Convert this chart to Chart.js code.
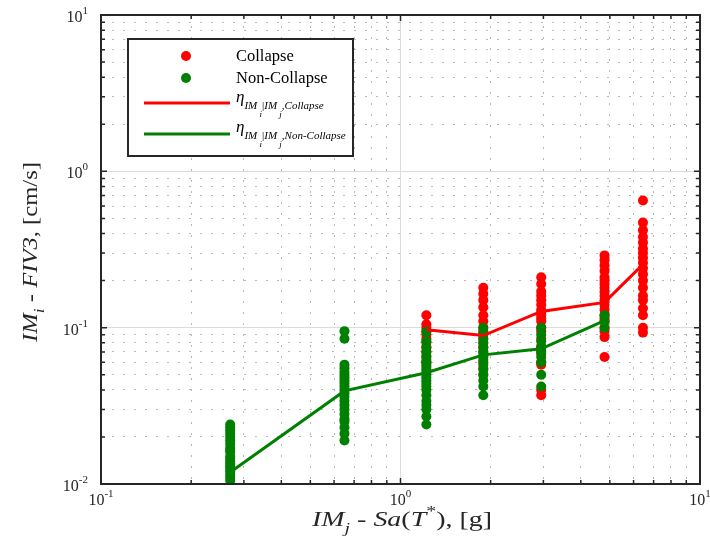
<!DOCTYPE html>
<html>
<head>
<meta charset="utf-8">
<script src="https://cdn.jsdelivr.net/npm/chart.js@4.4.0/dist/chart.umd.min.js"></script>
<style>
body{margin:0;background:#fff}
canvas{display:block}
</style>
</head>
<body>
<canvas id="grafico" width="710" height="557"></canvas>
<script>
// colunas de IM_j (Sa(T*), g)
const xCols = [0.27, 0.65, 1.22, 1.89, 2.95, 4.8, 6.45];

// Non-Collapse (verde)
const nc_027 = [0.024, 0.023, 0.022, 0.021, 0.020, 0.019, 0.018, 0.017, 0.0165, 0.016, 0.015, 0.0145, 0.014, 0.0135, 0.013, 0.0125, 0.012, 0.0115, 0.011, 0.0105];
const nc_065 = [0.095, 0.085, 0.058, 0.055, 0.052, 0.05, 0.048, 0.046, 0.044, 0.042, 0.04, 0.038, 0.036, 0.034, 0.032, 0.03, 0.028, 0.026, 0.025, 0.023, 0.021, 0.019];
const nc_122 = [0.094, 0.082, 0.075, 0.07, 0.066, 0.062, 0.06, 0.058, 0.056, 0.054, 0.052, 0.05, 0.048, 0.046, 0.044, 0.042, 0.04, 0.037, 0.034, 0.032, 0.03, 0.027, 0.024];
const nc_189 = [0.1, 0.092, 0.085, 0.08, 0.075, 0.07, 0.066, 0.062, 0.058, 0.054, 0.05, 0.046, 0.042, 0.037];
const nc_295 = [0.1, 0.09, 0.082, 0.076, 0.072, 0.068, 0.065, 0.06, 0.05, 0.042];
const nc_480 = [0.12, 0.11, 0.1];

// Collapse (vermelho)
const c_122 = [0.12, 0.105, 0.1, 0.095, 0.09, 0.085, 0.08, 0.075, 0.07, 0.065, 0.06];
const c_189 = [0.18, 0.165, 0.15, 0.135, 0.12, 0.11, 0.1, 0.095, 0.09, 0.085, 0.08, 0.075, 0.07, 0.065, 0.06, 0.055, 0.05];
const c_295 = [0.21, 0.19, 0.17, 0.16, 0.15, 0.14, 0.13, 0.125, 0.12, 0.115, 0.11, 0.1, 0.095, 0.085, 0.075, 0.07, 0.06, 0.058, 0.04, 0.037];
const c_480 = [0.29, 0.27, 0.25, 0.23, 0.21, 0.2, 0.19, 0.18, 0.17, 0.16, 0.15, 0.14, 0.13, 0.12, 0.115, 0.11, 0.1, 0.095, 0.087, 0.065];
const c_645 = [0.65, 0.47, 0.42, 0.38, 0.35, 0.32, 0.3, 0.28, 0.26, 0.24, 0.22, 0.2, 0.18, 0.16, 0.15, 0.133, 0.12, 0.1, 0.093];

// medianas
const medNaoColapso = [0.0119, 0.0394, 0.0515, 0.067, 0.0733, 0.111];
const medColapso = [0.097, 0.089, 0.127, 0.145, 0.254];

const xTicksDec = [-1, 0, 1];
const yTicksDec = [-2, -1, 0, 1];

function pontos(x, ys){
    return ys.map(function(y){ return {x: x, y: y} })
}

var verdes = [].concat(
    pontos(xCols[0], nc_027), pontos(xCols[1], nc_065), pontos(xCols[2], nc_122),
    pontos(xCols[3], nc_189), pontos(xCols[4], nc_295), pontos(xCols[5], nc_480))
var vermelhos = [].concat(
    pontos(xCols[2], c_122), pontos(xCols[3], c_189), pontos(xCols[4], c_295),
    pontos(xCols[5], c_480), pontos(xCols[6], c_645))
var linhaVerde = medNaoColapso.map(function(y, i){ return {x: xCols[i], y: y} })
var linhaVermelha = medColapso.map(function(y, i){ return {x: xCols[i + 2], y: y} })

function ticksLog(dMin, dMax){
    var t = []
    for(let e = dMin; e < dMax; e++){
        for(let m = 1; m < 10; m++){
            t.push(parseFloat((m * Math.pow(10, e)).toPrecision(6)))
        }
    }
    t.push(Math.pow(10, dMax))
    return t
}

function ehDecada(v){
    var l = Math.log10(v)
    return Math.abs(l - Math.round(l)) < 1e-6
}

const SERIF = "'Liberation Serif', 'DejaVu Serif', serif"

function larguraRuns(ctx, runs){
    var w = 0
    runs.forEach(function(r){ ctx.font = r.f; w += ctx.measureText(r.t).width })
    return w
}

function desenhaRuns(ctx, runs, x, y){
    runs.forEach(function(r){
        ctx.font = r.f
        ctx.fillText(r.t, x, y + (r.dy || 0))
        x += ctx.measureText(r.t).width
    })
}

function runsPot(e){
    return [{t: '10', f: '16px ' + SERIF}, {t: String(e), f: '11px ' + SERIF, dy: -8}]
}

function runsEta(nome){
    return [
        {t: 'η', f: 'italic 17px ' + SERIF},
        {t: 'IM', f: 'italic 11px ' + SERIF, dy: 7},
        {t: ' i', f: 'italic 9px ' + SERIF, dy: 15},
        {t: '|', f: '11px ' + SERIF, dy: 7},
        {t: 'IM', f: 'italic 11px ' + SERIF, dy: 7},
        {t: ' j', f: 'italic 9px ' + SERIF, dy: 15},
        {t: ',' + nome, f: 'italic 11px ' + SERIF, dy: 7}
    ]
}

// título esticado na horizontal, como no original
function tituloEsticado(ctx, runs, cx, cy, largura, rot){
    var w = larguraRuns(ctx, runs)
    ctx.save()
    ctx.translate(cx, cy)
    if(rot) ctx.rotate(-Math.PI / 2)
    ctx.scale(largura / w, 1)
    desenhaRuns(ctx, runs, -w / 2, 0)
    ctx.restore()
}

const moldura = {
    id: 'moldura',
    afterDraw: function(chart){
        const ctx = chart.ctx
        const a = chart.chartArea
        const sx = chart.scales.x
        const sy = chart.scales.y
        ctx.save()
        ctx.strokeStyle = '#262626'
        ctx.fillStyle = '#262626'

        // ticks para dentro
        ctx.lineWidth = 1.5
        sx.ticks.forEach(function(t){
            var p = sx.getPixelForValue(t.value)
            if(p <= a.left + 1 || p >= a.right - 1) return
            var L = ehDecada(t.value) ? 6 : 4
            ctx.beginPath()
            ctx.moveTo(p, a.bottom); ctx.lineTo(p, a.bottom - L)
            ctx.moveTo(p, a.top); ctx.lineTo(p, a.top + L)
            ctx.stroke()
        })
        sy.ticks.forEach(function(t){
            var p = sy.getPixelForValue(t.value)
            if(p <= a.top + 1 || p >= a.bottom - 1) return
            var L = ehDecada(t.value) ? 6 : 4
            ctx.beginPath()
            ctx.moveTo(a.left, p); ctx.lineTo(a.left + L, p)
            ctx.moveTo(a.right, p); ctx.lineTo(a.right - L, p)
            ctx.stroke()
        })

        ctx.lineWidth = 2
        ctx.strokeRect(a.left, a.top, a.right - a.left, a.bottom - a.top)

        // rótulos dos ticks
        ctx.fillStyle = '#262626'
        ctx.textBaseline = 'alphabetic'
        ctx.textAlign = 'left'
        xTicksDec.forEach(function(e){
            var r = runsPot(e === -1 ? '-1' : e)
            var w = larguraRuns(ctx, r)
            var p = sx.getPixelForValue(Math.pow(10, e))
            desenhaRuns(ctx, r, p - w / 2, a.bottom + 21)
        })
        yTicksDec.forEach(function(e){
            var r = runsPot(e < 0 ? String(e) : e)
            var w = larguraRuns(ctx, r)
            var p = sy.getPixelForValue(Math.pow(10, e))
            desenhaRuns(ctx, r, a.left - 13 - w, p + 7)
        })

        // título do eixo x
        var rx = [
            {t: 'IM', f: 'italic 21px ' + SERIF},
            {t: 'j', f: 'italic 15px ' + SERIF, dy: 7},
            {t: ' - ', f: '21px ' + SERIF},
            {t: 'Sa', f: 'italic 21px ' + SERIF},
            {t: '(', f: '21px ' + SERIF},
            {t: 'T', f: 'italic 21px ' + SERIF},
            {t: '*', f: '15px ' + SERIF, dy: -10},
            {t: '), [g]', f: '21px ' + SERIF}
        ]
        tituloEsticado(ctx, rx, 402, 526, 180, false)

        // título do eixo y
        var ry = [
            {t: 'IM', f: 'italic 21px ' + SERIF},
            {t: 'i', f: 'italic 15px ' + SERIF, dy: 7},
            {t: ' - ', f: '21px ' + SERIF},
            {t: 'FIV3', f: 'italic 21px ' + SERIF},
            {t: ', [cm/s]', f: '21px ' + SERIF}
        ]
        tituloEsticado(ctx, ry, 37, 252, 180, true)

        // legenda
        var lx = 128, ly = 39, lw = 225, lh = 117
        ctx.fillStyle = '#ffffff'
        ctx.fillRect(lx, ly, lw, lh)
        ctx.lineWidth = 2
        ctx.strokeStyle = '#262626'
        ctx.strokeRect(lx, ly, lw, lh)

        ctx.fillStyle = '#ff0000'
        ctx.beginPath(); ctx.arc(186, 56, 5, 0, 2 * Math.PI); ctx.fill()
        ctx.fillStyle = '#008000'
        ctx.beginPath(); ctx.arc(186, 78, 5, 0, 2 * Math.PI); ctx.fill()

        ctx.lineWidth = 3
        ctx.strokeStyle = '#ff0000'
        ctx.beginPath(); ctx.moveTo(144, 103); ctx.lineTo(230, 103); ctx.stroke()
        ctx.strokeStyle = '#008000'
        ctx.beginPath(); ctx.moveTo(144, 134); ctx.lineTo(230, 134); ctx.stroke()

        ctx.fillStyle = '#000000'
        ctx.font = '16.5px ' + SERIF
        ctx.fillText('Collapse', 236, 61)
        ctx.fillText('Non-Collapse', 236, 83)
        desenhaRuns(ctx, runsEta('Collapse'), 236, 102)
        desenhaRuns(ctx, runsEta('Non-Collapse'), 236, 132)

        ctx.restore()
    }
}

function eixoLog(dMin, dMax, tamanho, ehX){
    return {
        type: 'logarithmic',
        min: Math.pow(10, dMin),
        max: Math.pow(10, dMax),
        afterBuildTicks: function(scale){
            scale.ticks = ticksLog(dMin, dMax).map(function(v){ return {value: v} })
        },
        afterFit: function(scale){
            if(ehX){ scale.height = tamanho } else { scale.width = tamanho }
        },
        ticks: {display: false},
        grid: {
            drawTicks: false,
            color: function(c){ return c.tick && ehDecada(c.tick.value) ? '#dcdcdc' : '#b8b8b8' },
            lineWidth: 1
        },
        border: {
            display: false,
            dash: function(c){ return c.tick && !ehDecada(c.tick.value) ? [2, 9] : [] }
        }
    }
}

const ctx = document.getElementById('grafico').getContext('2d');
const myChart = new Chart(ctx, {
    type: 'scatter',
    data: {
        datasets: [{
            type: 'line',
            label: 'Non-Collapse median',
            data: linhaVerde,
            borderColor: '#008000',
            borderWidth: 3,
            pointRadius: 0,
            fill: false,
            tension: 0,
            order: 0
        }, {
            type: 'line',
            label: 'Collapse median',
            data: linhaVermelha,
            borderColor: '#ff0000',
            borderWidth: 3,
            pointRadius: 0,
            fill: false,
            tension: 0,
            order: 1
        }, {
            label: 'Non-Collapse',
            data: verdes,
            backgroundColor: '#008000',
            borderWidth: 0,
            pointRadius: 5,
            order: 2
        }, {
            label: 'Collapse',
            data: vermelhos,
            backgroundColor: '#ff0000',
            borderWidth: 0,
            pointRadius: 5,
            order: 3
        }]
    },
    options: {
        responsive: false,
        animation: false,
        layout: {padding: {top: 15, right: 10, left: 0, bottom: 0}},
        plugins: {
            legend: {display: false},
            tooltip: {enabled: false}
        },
        scales: {
            x: eixoLog(-1, 1, 73, true),
            y: eixoLog(-2, 1, 101, false)
        }
    },
    plugins: [moldura]
});
</script>
</body>
</html>
